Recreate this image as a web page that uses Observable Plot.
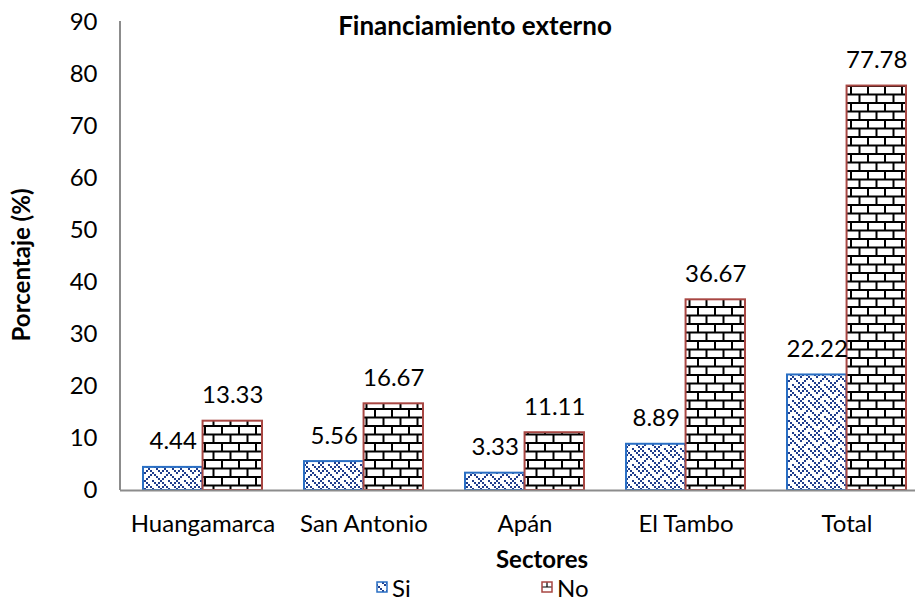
<!DOCTYPE html>
<html><head><meta charset="utf-8">
<script src="https://cdn.jsdelivr.net/npm/d3@7"></script>
<script src="https://cdn.jsdelivr.net/npm/@observablehq/plot@0.6"></script>
<style>
html,body{margin:0;padding:0;background:#fff;overflow:hidden;}
svg{display:block;}
</style>
</head><body><div id="chart"></div>
<script>
// ---- data ----
const sectores = ["Huangamarca", "San Antonio", "Apán", "El Tambo", "Total"];
const series = ["Si", "No"];
const valoresSi = [4.44, 5.56, 3.33, 8.89, 22.22];
const valoresNo = [13.33, 16.67, 11.11, 36.67, 77.78];
const yTicks = [0, 10, 20, 30, 40, 50, 60, 70, 80, 90];
const titulo = "Financiamiento externo";
const tituloY = "Porcentaje (%)";
const tituloX = "Sectores";

const datosSi = sectores.map((s, i) => ({sector: s, serie: series[0], valor: valoresSi[i]}));
const datosNo = sectores.map((s, i) => ({sector: s, serie: series[1], valor: valoresNo[i]}));

// ---- layout ----
const W = 915, H = 601;
const FONT = "Lato, 'Open Sans', sans-serif";
const xRange = [122, 927];
const padIn = 0.26, padOut = 0.13;
const bw = d3.scaleBand().domain(sectores).range(xRange).paddingInner(padIn).paddingOuter(padOut).bandwidth();
const half = bw / 2;
const colSi = "#2a6fc4", colNo = "#a84743", axisCol = "#8c8c8c";

const chart = Plot.plot({
  width: W, height: H,
  marginLeft: 120, marginRight: 0, marginTop: 22, marginBottom: H - 490,
  style: {fontFamily: FONT, fontSize: "24px", color: "#000", background: "#fff"},
  x: {domain: sectores, range: xRange, paddingInner: padIn, paddingOuter: padOut, label: null},
  y: {domain: [0, 90], label: null},
  marks: [
    Plot.axisY(yTicks, {tickSize: 0, tickPadding: 23, fontSize: 24, label: null}),
    Plot.axisX({tickSize: 0, tickPadding: 24, fontSize: 24, label: null}),
    Plot.barY(datosSi, {x: "sector", y: "valor", insetRight: half, fill: "url(#patSi)", stroke: colSi, strokeWidth: 2}),
    Plot.barY(datosNo, {x: "sector", y: "valor", insetLeft: half, fill: "url(#patNo)", stroke: colNo, strokeWidth: 2}),
    Plot.ruleY([0], {stroke: axisCol, strokeWidth: 2}),
    Plot.text(datosSi, {x: "sector", y: "valor", dx: -half / 2, dy: -18, lineAnchor: "bottom", text: d => d.valor.toFixed(2), fontSize: 24, fill: "#000"}),
    Plot.text(datosNo, {x: "sector", y: "valor", dx: half / 2, dy: -18, lineAnchor: "bottom", text: d => d.valor.toFixed(2), fontSize: 24, fill: "#000"})
  ]
});

const svg = d3.select(chart);
const defs = svg.insert("defs", ":first-child");

// Si pattern: weave-like pixel pattern
const weave = ["10001000","01000101","00100010","01010001","10001000","00010100","00100010","01000001"];
const pSi = defs.append("pattern").attr("id", "patSi").attr("patternUnits", "userSpaceOnUse")
  .attr("width", 16).attr("height", 16);
pSi.append("rect").attr("width", 16).attr("height", 16).attr("fill", "#fff");
weave.forEach((row, r) => row.split("").forEach((b, c) => {
  if (b === "1") pSi.append("rect").attr("x", c * 2).attr("y", r * 2).attr("width", 2).attr("height", 2).attr("fill", "#1f3d8c");
}));

// No pattern: brick
const pNo = defs.append("pattern").attr("id", "patNo").attr("patternUnits", "userSpaceOnUse")
  .attr("width", 17).attr("height", 17);
pNo.append("rect").attr("width", 17).attr("height", 17).attr("fill", "#fff");
pNo.append("path").attr("d", "M0,1 H17 M0,9.5 H17 M1,1 V9.5 M9.5,9.5 V17")
  .attr("stroke", "#000").attr("stroke-width", 2).attr("fill", "none");

// legend pattern for No (smaller)
const pNoS = defs.append("pattern").attr("id", "patNoS").attr("patternUnits", "objectBoundingBox")
  .attr("width", 1).attr("height", 1);
pNoS.append("rect").attr("width", 10).attr("height", 10).attr("fill", "#fff");
pNoS.append("path").attr("d", "M0,5 H10 M5,0 V5").attr("stroke", "#000").attr("stroke-width", 1.2);

// y axis line
const ys = chart.scale("y");
svg.append("line").attr("x1", 120).attr("x2", 120).attr("y1", ys.apply(90) - 1).attr("y2", ys.apply(0))
  .attr("stroke", axisCol).attr("stroke-width", 2);

const txt = (x, y, s, opts = {}) => {
  const t = svg.append("text").attr("x", x).attr("y", y).text(s)
    .attr("font-family", FONT).attr("font-size", opts.size || 24).attr("fill", "#000")
    .attr("text-anchor", opts.anchor || "middle");
  if (opts.bold) t.attr("font-weight", "bold");
  if (opts.rotate) t.attr("transform", `rotate(-90 ${x} ${y})`);
  return t;
};
txt(475, 35, titulo, {bold: true, size: 26});
txt(30, 265, tituloY, {bold: true, rotate: true});
txt(542, 568, tituloX, {bold: true});

// legend
svg.append("rect").attr("x", 377).attr("y", 582).attr("width", 10).attr("height", 10)
  .attr("fill", "url(#patSi)").attr("stroke", colSi).attr("stroke-width", 1.5);
txt(392, 597, series[0], {anchor: "start"});
svg.append("rect").attr("x", 542).attr("y", 582).attr("width", 10).attr("height", 10)
  .attr("fill", "url(#patNoS)").attr("stroke", colNo).attr("stroke-width", 1.5);
txt(557, 597, series[1], {anchor: "start"});

document.getElementById("chart").appendChild(chart);
</script>
</body></html>
